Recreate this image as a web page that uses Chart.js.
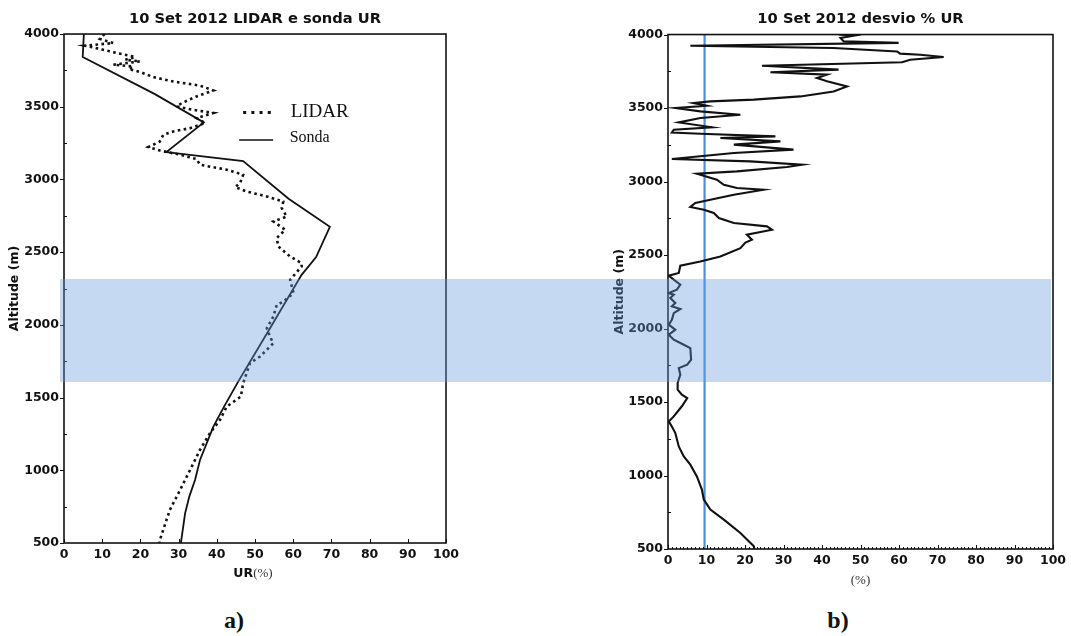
<!DOCTYPE html>
<html>
<head>
<meta charset="utf-8">
<script src="https://cdn.jsdelivr.net/npm/chart.js@4.4.1/dist/chart.umd.min.js"></script>
<style>
  body { margin: 0; background: #fff; }
  #wrap { position: relative; width: 1071px; height: 636px; overflow: hidden; }
  canvas { position: absolute; top: 0; }
  #chartA { left: 0; }
  #chartB { left: 590px; }
  #band { position: absolute; background: rgba(104, 156, 221, 0.38); pointer-events: none; }
  .cap { position: absolute; width: 60px; text-align: center; font: bold 24px "Liberation Serif", serif; line-height: 28px; color: #111; }
</style>
</head>
<body>
<div id="wrap">
  <canvas id="chartA" width="470" height="590"></canvas>
  <canvas id="chartB" width="481" height="595"></canvas>
  <div id="band"></div>
  <div class="cap" style="left:204px; top:606px;">a)</div>
  <div class="cap" style="left:808px; top:606px;">b)</div>
</div>
<script>
// a) LIDAR e sonda UR: altitude (m) and relative humidity (%)
const altLidar = [4000, 3966, 3938, 3920, 3897, 3870, 3842, 3823, 3812, 3789, 3777, 3760, 3739, 3704, 3674,
  3645, 3612, 3571, 3525, 3502, 3479, 3457, 3422, 3388, 3353, 3330, 3307, 3261, 3223, 3199, 3170, 3140,
  3101, 3067, 3032, 2975, 2948, 2917, 2883, 2848, 2803, 2745, 2711, 2654, 2597, 2539, 2470, 2424, 2401,
  2310, 2218, 2160, 2137, 2057, 1977, 1920, 1874, 1782, 1737, 1599, 1507, 1438, 1346, 1255, 1140, 1002,
  865, 727, 521, 500];
const urLidar = [10.6, 9.4, 12.9, 5.5, 9.4, 13.8, 18.6, 16.0, 19.9, 12.9, 18.1, 16.9, 19.9, 23.4, 28.6,
  35.6, 39.1, 34.7, 30.8, 29.5, 33.8, 39.1, 34.7, 36.9, 33.0, 28.6, 26.0, 25.1, 22.1, 25.1, 30.4, 34.7,
  35.6, 42.6, 46.9, 46.1, 44.8, 47.8, 53.1, 57.4, 57.0, 58.3, 54.8, 57.9, 55.7, 56.1, 59.2, 62.2, 62.2,
  59.2, 60.1, 57.4, 55.7, 54.8, 53.1, 53.9, 54.8, 51.3, 48.7, 46.9, 46.3, 42.6, 40.8, 38.2, 35.6, 33.0,
  30.4, 27.7, 25.1, 25.0];

const altSonda = [4000, 3842, 3587, 3392, 3188, 3126, 2867, 2674, 2466, 2344, 1966, 1610, 1438, 1300, 1071, 933, 819, 704, 500];
const urSonda = [5.2, 4.9, 23.8, 36.6, 26.8, 46.9, 58.8, 69.6, 66.0, 62.2, 53.7, 45.6, 41.9, 39.1, 35.6, 34.3, 32.8, 31.7, 30.6];

// b) desvio % UR
const altDesvio = [4000, 3992, 3977, 3954, 3943, 3924, 3908, 3885, 3870, 3862, 3847, 3829, 3811, 3788, 3761,
  3743, 3727, 3704, 3682, 3647, 3613, 3579, 3557, 3545, 3534, 3516, 3500, 3477, 3454, 3432, 3402, 3369,
  3353, 3334, 3325, 3307, 3296, 3273, 3251, 3217, 3194, 3153, 3137, 3114, 3099, 3069, 3053, 3012, 2978,
  2956, 2944, 2910, 2876, 2854, 2827, 2808, 2786, 2752, 2718, 2695, 2672, 2638, 2604, 2585, 2547, 2490,
  2456, 2427, 2378, 2359, 2298, 2264, 2241, 2230, 2207, 2173, 2151, 2133, 2105, 2060, 2026, 1992, 1958,
  1924, 1890, 1867, 1788, 1754, 1731, 1686, 1629, 1584, 1550, 1527, 1471, 1402, 1368, 1334, 1289, 1198,
  1130, 1074, 994, 904, 836, 768, 700, 609, 518, 500];
const desvio = [44.3, 48.2, 44.8, 45.6, 59.9, 5.8, 43.0, 59.5, 60.3, 65.5, 71.6, 62.9, 60.8, 24.4, 44.3,
  26.6, 41.3, 38.7, 41.3, 46.5, 43.0, 34.4, 22.3, 11.0, 6.7, 10.1, 1.9, 8.4, 18.8, 8.4, 2.8, 11.4,
  1.5, 1.0, 8.4, 27.9, 13.6, 29.2, 17.1, 32.6, 17.1, 1.0, 21.4, 34.8, 30.9, 17.9, 7.5, 12.7, 14.5,
  17.9, 24.8, 17.1, 11.0, 7.1, 5.8, 9.3, 11.9, 13.2, 17.1, 25.7, 27.0, 20.5, 21.8, 20.1, 18.8, 13.6,
  8.4, 3.2, 2.8, 0.2, 3.2, 2.3, 0.2, 1.5, 0.6, 1.9, 1.0, 3.2, 1.5, 1.0, 0.2, 1.9, 0.2,
  1.5, 4.1, 5.8, 6.0, 5.0, 2.8, 3.2, 2.5, 2.5, 3.6, 5.0, 3.6, 1.5, 0.2, 1.0, 1.9, 2.8,
  4.1, 5.8, 7.5, 8.8, 9.3, 11.0, 14.5, 18.8, 22.3, 22.4];
const limiar = 9.5;            // vertical reference line (%)
const altRange = [500, 4000];  // y axis limits (m)
const bandAlt = [1610, 2318];  // highlighted layer (m)

Chart.defaults.font.family = '"DejaVu Sans", Verdana, sans-serif';
Chart.defaults.color = '#111';

const tickFont = { size: 12.5, weight: 'bold' };

function pts(xs, ys) {
    return xs.map((v, i) => ({ x: v, y: ys[i] }));
}

// box around the plot plus small tick marks
const framePlugin = {
    id: 'frame',
    afterDatasetsDraw(chart, args, opts) {
        const { ctx, chartArea: a, scales: { x, y } } = chart;
        ctx.save();
        ctx.strokeStyle = '#111';
        ctx.lineWidth = 1;
        for (let v = y.min; v <= y.max; v += 250) {
            const py = Math.round(y.getPixelForValue(v)) + 0.5;
            ctx.beginPath();
            if (v % 500 === 0) {
                ctx.moveTo(a.left - 4, py); ctx.lineTo(a.left, py);
            } else {
                ctx.moveTo(a.left, py); ctx.lineTo(a.left + 3, py);
            }
            ctx.stroke();
        }
        for (let v = x.min; v <= x.max; v += opts.minorX) {
            const px = Math.round(x.getPixelForValue(v)) + 0.5;
            const len = v % 10 === 0 ? 4 : 2;
            ctx.beginPath();
            ctx.moveTo(px, a.bottom); ctx.lineTo(px, a.bottom - len);
            ctx.stroke();
        }
        ctx.lineWidth = 1.6;
        ctx.strokeRect(a.left, a.top, a.right - a.left, a.bottom - a.top);
        ctx.restore();
    }
};

// legend inside plot a)
const lidarLegend = {
    id: 'lidarLegend',
    afterDraw(chart) {
        const { ctx, scales: { x, y } } = chart;
        const x0 = x.getPixelForValue(46.9);
        const y0 = y.getPixelForValue(3461);
        ctx.save();
        ctx.strokeStyle = '#111';
        ctx.lineWidth = 3;
        ctx.setLineDash([3, 5.2]);
        ctx.beginPath();
        ctx.moveTo(x0, y0); ctx.lineTo(x0 + 29, y0);
        ctx.stroke();
        ctx.setLineDash([]);
        ctx.lineWidth = 1.5;
        ctx.beginPath();
        ctx.moveTo(x0 - 4, y0 + 27.5); ctx.lineTo(x0 + 30, y0 + 27.5);
        ctx.stroke();
        ctx.fillStyle = '#111';
        ctx.textBaseline = 'alphabetic';
        ctx.font = '19px "Liberation Serif", serif';
        ctx.fillText(chart.data.datasets[0].label, x0 + 47.5, y0 + 5);
        ctx.font = '16px "Liberation Serif", serif';
        ctx.fillText(chart.data.datasets[1].label, x0 + 46.5, y0 + 29.5);
        // x axis title with mixed fonts: UR(%)
        const cx = (chart.chartArea.left + chart.chartArea.right) / 2 - 2;
        const ty = chart.chartArea.bottom + 30.5;
        ctx.textBaseline = 'middle';
        ctx.font = 'bold 12.5px "DejaVu Sans", sans-serif';
        const w1 = ctx.measureText('UR').width;
        ctx.font = '13px "Liberation Serif", serif';
        const w2 = ctx.measureText('(%)').width;
        let sx = cx - (w1 + w2) / 2;
        ctx.font = 'bold 12.5px "DejaVu Sans", sans-serif';
        ctx.fillText('UR', sx, ty);
        ctx.font = '13px "Liberation Serif", serif';
        ctx.fillStyle = '#333';
        ctx.fillText('(%)', sx + w1, ty + 0.5);
        ctx.restore();
    }
};

function axes(yWidth, xHeight, yTitlePad, xTitle) {
    return {
        x: {
            type: 'linear', min: 0, max: 100,
            afterFit: s => { s.height = xHeight; },
            grid: { display: false, drawTicks: false },
            border: { display: false },
            ticks: { stepSize: 10, padding: 4, font: tickFont, color: '#111' },
            title: xTitle
        },
        y: {
            type: 'linear', min: altRange[0], max: altRange[1],
            afterFit: s => { s.width = yWidth; },
            grid: { display: false, drawTicks: false },
            border: { display: false },
            ticks: { stepSize: 500, padding: 5, font: tickFont, color: '#111', callback: v => String(v) },
            title: { display: true, text: 'Altitude (m)', font: { size: 12.5, weight: 'bold' }, color: '#111', padding: { top: yTitlePad, bottom: 0 } }
        }
    };
}

const chartA = new Chart(document.getElementById('chartA'), {
    type: 'scatter',
    data: {
        datasets: [{
            label: 'LIDAR',
            data: pts(urLidar, altLidar),
            showLine: true,
            borderColor: '#111',
            borderWidth: 2.6,
            borderDash: [2.6, 3.4],
            pointRadius: 0,
            tension: 0
        }, {
            label: 'Sonda',
            data: pts(urSonda, altSonda),
            showLine: true,
            borderColor: '#111',
            borderWidth: 1.8,
            pointRadius: 0,
            tension: 0
        }]
    },
    options: {
        responsive: false,
        animation: false,
        layout: { padding: { left: 0, right: 24, top: 0, bottom: 0 } },
        plugins: {
            legend: { display: false },
            tooltip: { enabled: false },
            title: {
                display: true,
                fullSize: false,
                text: '10 Set 2012 LIDAR e sonda UR',
                font: { size: 14.7, weight: 'bold' },
                color: '#111',
                padding: { top: 10, bottom: 6.4 }
            },
            frame: { minorX: 10 }
        },
        scales: axes(64, 47, 7.5, { display: false })
    },
    plugins: [framePlugin, lidarLegend]
});

const chartB = new Chart(document.getElementById('chartB'), {
    type: 'scatter',
    data: {
        datasets: [{
            label: 'desvio % UR',
            data: pts(desvio, altDesvio),
            showLine: true,
            borderColor: '#111',
            borderWidth: 2.1,
            pointRadius: 0,
            tension: 0
        }, {
            label: 'limiar',
            data: pts([limiar, limiar], altRange),
            showLine: true,
            borderColor: '#4a8fd8',
            borderWidth: 2.2,
            pointRadius: 0
        }]
    },
    options: {
        responsive: false,
        animation: false,
        layout: { padding: { left: 0, right: 18, top: 0, bottom: 0 } },
        plugins: {
            legend: { display: false },
            tooltip: { enabled: false },
            title: {
                display: true,
                fullSize: false,
                text: '10 Set 2012 desvio % UR',
                font: { size: 14.7, weight: 'bold' },
                color: '#111',
                padding: { top: 10, bottom: 6.9 }
            },
            frame: { minorX: 1 }
        },
        scales: axes(78, 46, 22.5, {
            display: true, text: '(%)',
            font: { family: '"Liberation Serif", serif', size: 13 },
            color: '#333',
            padding: { top: 0, bottom: 6.2 }
        })
    },
    plugins: [framePlugin]
});

// light blue layer across both panels, placed from panel a) altitude scale
const band = document.getElementById('band');
const yA = chartA.scales.y;
const bTop = yA.getPixelForValue(bandAlt[1]);
const bBot = yA.getPixelForValue(bandAlt[0]);
const bLeft = chartA.canvas.offsetLeft + chartA.chartArea.left - 4;
const bRight = chartB.canvas.offsetLeft + chartB.chartArea.right - 2;
band.style.left = bLeft + 'px';
band.style.top = bTop + 'px';
band.style.width = (bRight - bLeft) + 'px';
band.style.height = (bBot - bTop) + 'px';
</script>
</body>
</html>
